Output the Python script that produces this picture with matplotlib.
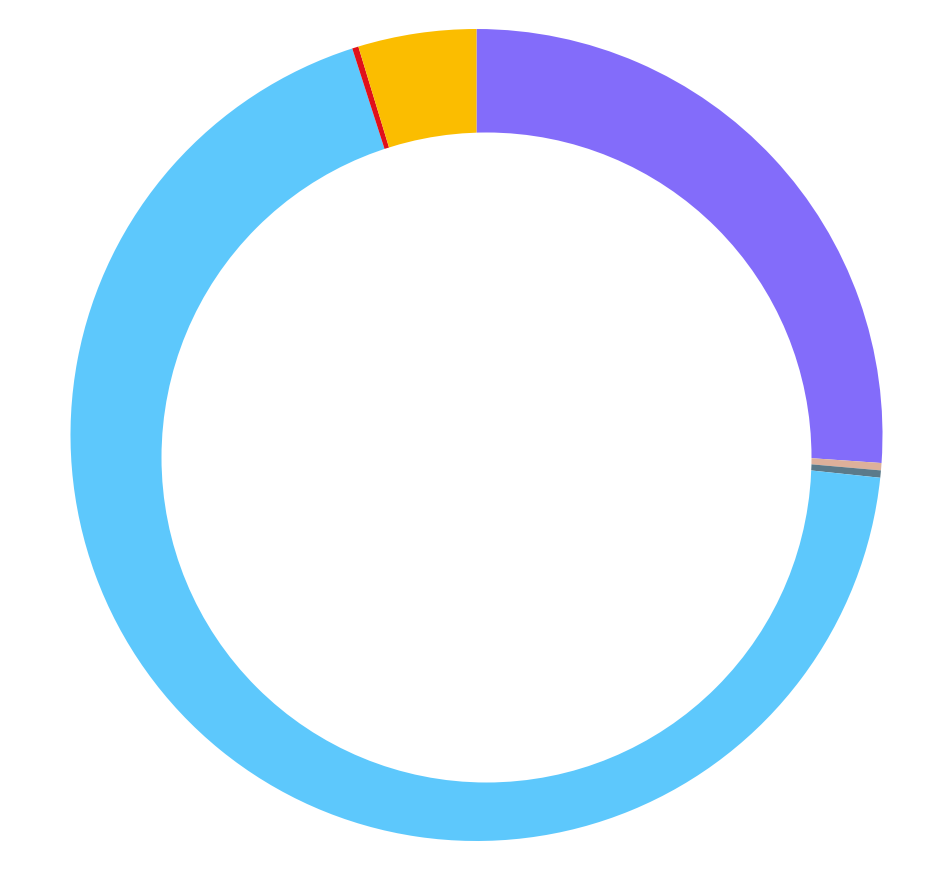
import matplotlib
matplotlib.use("Agg")
import matplotlib.pyplot as plt
from matplotlib.patches import Circle

labels = ["Purple", "Tan", "Slate", "Blue", "Red", "Yellow"]
values = [26.1, 0.29, 0.29, 68.37, 0.25, 4.7]
colors = ["#836CFA", "#DDB09A", "#5B7A8A", "#5DC8FC", "#E0101A", "#FBBD00"]

W, H = 952, 870
fig = plt.figure(figsize=(W / 100, H / 100), dpi=100)
ax = fig.add_axes([0, 0, 1, 1])

ax.pie(values, colors=colors, startangle=90, counterclock=False,
       center=(476.5, H - 436), radius=406,
       wedgeprops=dict(linewidth=0, antialiased=True))
ax.add_patch(Circle((486.5, H - 458.5), 325, facecolor="white", edgecolor="none", zorder=5))

ax.set_xlim(0, W)
ax.set_ylim(0, H)
ax.set_aspect("equal")
ax.axis("off")
fig.savefig("out.png", dpi=100, facecolor="white")
